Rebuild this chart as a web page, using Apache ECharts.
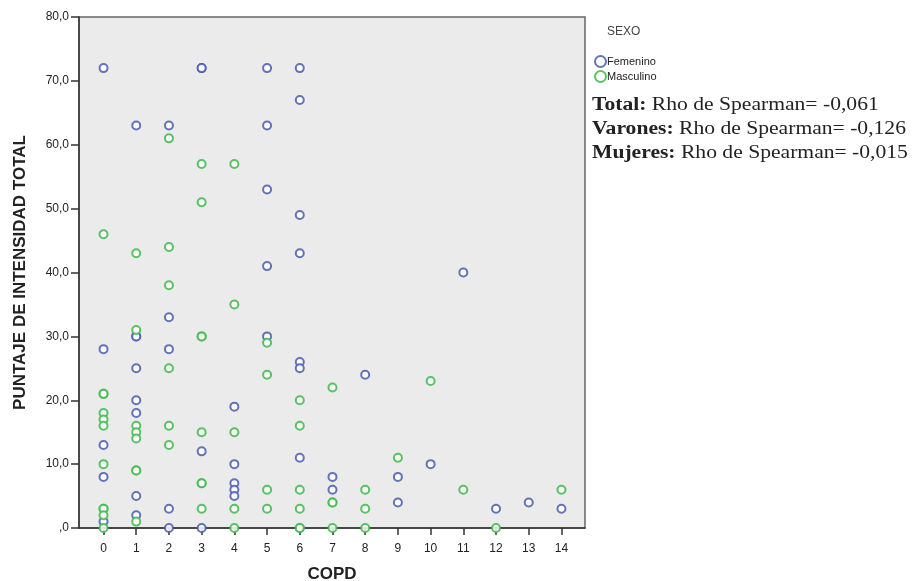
<!DOCTYPE html>
<html>
<head>
<meta charset="utf-8">
<script src="https://cdn.jsdelivr.net/npm/echarts@6/dist/echarts.min.js"></script>
<style>
html, body { margin: 0; padding: 0; background: #fff; }
#main { width: 923px; height: 581px; }
</style>
</head>
<body>
<div id="main"></div>
<script>
// COPD value vs. total intensity score, per sex
var femX = [0, 0, 0, 0, 0,
    1, 1, 1, 1, 1, 1, 1, 1,
    2, 2, 2, 2, 2,
    3, 3, 3, 3,
    4, 4, 4, 4, 4,
    5, 5, 5, 5, 5,
    6, 6, 6, 6, 6, 6, 6,
    7, 7, 8, 9, 9, 10, 11, 12, 13, 14];
var femY = [72, 28, 13, 8, 1,
    63, 30, 30, 25, 20, 18, 5, 2,
    63, 33, 28, 3, 0,
    72, 72, 12, 0,
    19, 10, 7, 6, 5,
    72, 63, 53, 41, 30,
    72, 67, 49, 43, 26, 25, 11,
    8, 6, 24, 8, 4, 10, 40, 3, 4, 3];

var mascX = [0, 0, 0, 0, 0, 0, 0, 0, 0, 0, 0,
    1, 1, 1, 1, 1, 1, 1, 1,
    2, 2, 2, 2, 2, 2,
    3, 3, 3, 3, 3, 3, 3, 3,
    4, 4, 4, 4, 4,
    5, 5, 5, 5,
    6, 6, 6, 6, 6, 6,
    7, 7, 7, 7,
    8, 8, 8,
    9, 10, 11, 12, 14];
var mascY = [46, 21, 21, 18, 17, 16, 10, 3, 3, 2, 0,
    43, 31, 16, 15, 14, 9, 9, 1,
    61, 44, 38, 25, 16, 13,
    57, 51, 30, 30, 15, 7, 7, 3,
    57, 35, 15, 3, 0,
    29, 24, 6, 3,
    20, 16, 6, 3, 0, 0,
    22, 4, 4, 0,
    6, 3, 0,
    11, 23, 6, 0, 6];

var xTicks = [0, 1, 2, 3, 4, 5, 6, 7, 8, 9, 10, 11, 12, 13, 14];
var statLines = [
    ['Total:', ' Rho de Spearman= -0,061'],
    ['Varones:', ' Rho de Spearman= -0,126'],
    ['Mujeres:', ' Rho de Spearman= -0,015']
];

function pairs(xs, ys) {
    var out = [];
    for (var i = 0; i < xs.length; i++) {
        out.push([xs[i], ys[i]]);
    }
    return out;
}

var statGraphics = [];
for (var i = 0; i < statLines.length; i++) {
    statGraphics.push({
        type: 'text',
        x: 592,
        y: 96 + i * 24,
        scaleX: 1.2,
        style: {
            text: '{b|' + statLines[i][0] + '}{n|' + statLines[i][1] + '}',
            rich: {
                b: { fontFamily: 'Liberation Serif', fontSize: 18, fontWeight: 'bold', fill: '#222' },
                n: { fontFamily: 'Liberation Serif', fontSize: 18, fill: '#222' }
            }
        }
    });
}

var chart = echarts.init(document.getElementById('main'));
var option = {
    animation: false,
    backgroundColor: '#fff',
    textStyle: { fontFamily: 'Liberation Sans' },
    grid: {
        left: 79, top: 17, width: 506, height: 511,
        outerBoundsMode: 'none',
        containLabel: false,
        show: true,
        backgroundColor: '#EBEBEB',
        borderColor: '#666',
        borderWidth: 1.5
    },
    legend: {
        orient: 'vertical',
        left: 589,
        top: 50,
        itemGap: 2,
        itemWidth: 11,
        itemHeight: 11,
        textStyle: { fontSize: 11, color: '#222', padding: [0, 0, 0, -4] },
        data: ['Femenino', 'Masculino']
    },
    xAxis: {
        type: 'value',
        min: -0.75,
        max: 14.72,
        name: 'COPD',
        nameLocation: 'middle',
        nameGap: 38,
        nameTextStyle: { fontSize: 17, fontWeight: 'bold', color: '#222' },
        axisLine: { onZero: false, lineStyle: { color: '#333', width: 1.5 } },
        axisTick: { show: true, length: 7, customValues: xTicks, lineStyle: { color: '#333', width: 1.5 } },
        axisLabel: { customValues: xTicks, fontSize: 12, color: '#222', margin: 15 },
        splitLine: { show: false }
    },
    yAxis: {
        type: 'value',
        min: 0,
        max: 80,
        interval: 10,
        name: 'PUNTAJE DE INTENSIDAD TOTAL',
        nameLocation: 'middle',
        nameGap: 50,
        nameTextStyle: { fontSize: 17, fontWeight: 'bold', color: '#222' },
        axisLine: { show: true, onZero: false, lineStyle: { color: '#333', width: 1.5 } },
        axisTick: { show: true, length: 8, lineStyle: { color: '#333', width: 1.5 } },
        axisLabel: {
            fontSize: 12, color: '#222', margin: 10,
            formatter: function (v) {
                return v === 0 ? ',0' : v.toFixed(1).replace('.', ',');
            }
        },
        splitLine: { show: false }
    },
    graphic: [{
        type: 'text',
        left: 607,
        top: 26,
        style: { text: 'SEXO', fontSize: 12, fill: '#444', fontFamily: 'Liberation Sans' }
    }].concat(statGraphics),
    series: [{
        name: 'Femenino',
        type: 'scatter',
        symbol: 'emptyCircle',
        symbolSize: 8,
        itemStyle: { color: '#4A5CAE', borderWidth: 1.5, opacity: 0.85 },
        data: pairs(femX, femY)
    }, {
        name: 'Masculino',
        type: 'scatter',
        symbol: 'emptyCircle',
        symbolSize: 8,
        itemStyle: { color: '#3DB84A', borderWidth: 1.5, opacity: 0.85 },
        data: pairs(mascX, mascY)
    }]
};
chart.setOption(option);
</script>
</body>
</html>
